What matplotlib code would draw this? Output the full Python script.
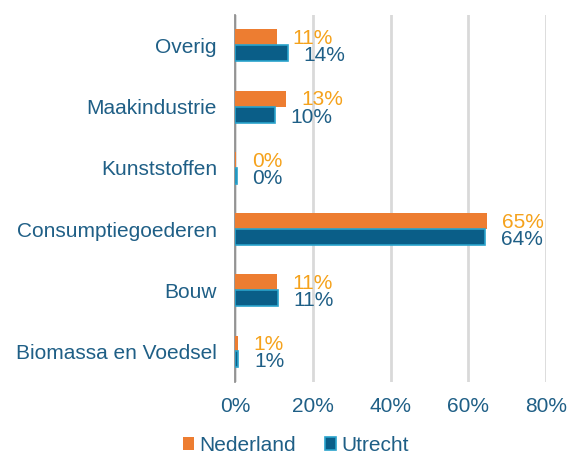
import matplotlib
matplotlib.use("Agg")
import matplotlib.pyplot as plt
import numpy as np

categories = ["Overig", "Maakindustrie", "Kunststoffen", "Consumptiegoederen", "Bouw", "Biomassa en Voedsel"]
nederland = [10.8, 13.1, 0.3, 64.7, 10.8, 0.8]
utrecht = [13.6, 10.2, 0.4, 64.3, 11.0, 0.9]
nl_labels = ["11%", "13%", "0%", "65%", "11%", "1%"]
ut_labels = ["14%", "10%", "0%", "64%", "11%", "1%"]
xticks = [0, 20, 40, 60, 80]
xticklabels = ["0%", "20%", "40%", "60%", "80%"]

plt.rcParams['font.family'] = ['Liberation Sans', 'DejaVu Sans']
TXT = "#1f5f86"
ORANGE = "#ed7d31"
BLUE = "#0a5e88"
EDGE = "#2aa3cc"
LBL_OR = "#f5a21c"

fig = plt.figure(figsize=(5.69, 4.62), dpi=100)
ax = fig.add_axes([0.413, 0.173, 0.547, 0.795])

y = np.arange(len(categories))[::-1].astype(float)
h = 0.26
ax.barh(y + h/2, nederland, height=h, color=ORANGE, zorder=3, label="Nederland")
ax.barh(y - h/2, utrecht, height=h, color=BLUE, edgecolor=EDGE, linewidth=1.2, zorder=3, label="Utrecht")

for yi, v, t in zip(y, nederland, nl_labels):
    ax.text(v + 4, yi + h/2 - 0.02, t, color=LBL_OR, fontsize=15, va="center", ha="left", zorder=4)
for yi, v, t in zip(y, utrecht, ut_labels):
    ax.text(v + 4, yi - h/2 - 0.04, t, color=TXT, fontsize=15, va="center", ha="left", zorder=4)

ax.set_xlim(0, 80)
ax.set_ylim(-0.5, len(categories) - 0.5)
ax.set_xticks(xticks)
ax.set_xticklabels(xticklabels)
ax.set_yticks(y)
ax.set_yticklabels(categories)
ax.tick_params(axis="both", length=0, labelsize=15, labelcolor=TXT)
ax.tick_params(axis="y", pad=13)
ax.tick_params(axis="x", pad=11)
ax.xaxis.grid(True, color="#d9d9d9", linewidth=2, zorder=0)
for s in ["top", "right", "bottom"]:
    ax.spines[s].set_visible(False)
ax.spines["left"].set_color("#868686")
ax.spines["left"].set_linewidth(1.2)

leg = fig.legend(loc="lower center", bbox_to_anchor=(0.52, -0.025), ncol=2, frameon=False,
                 fontsize=15, handlelength=0.55, handleheight=0.55, handletextpad=0.25, columnspacing=1.4)
for t in leg.get_texts():
    t.set_color(TXT)

fig.savefig("out.png", dpi=100)
